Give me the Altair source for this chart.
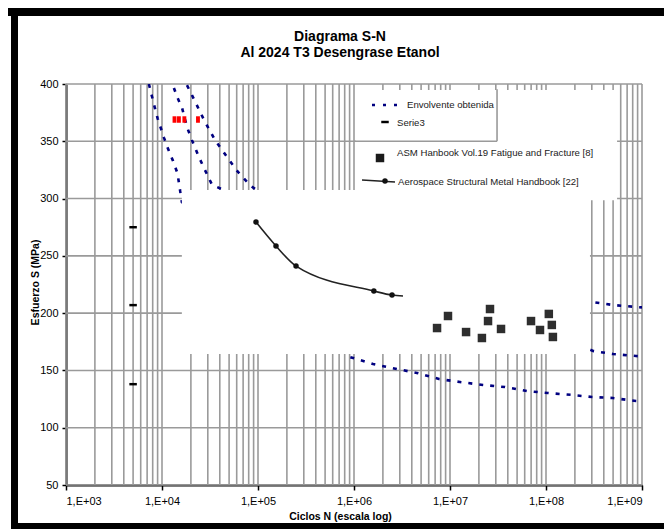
import altair as alt
import pandas as pd

# ---------------- data ----------------
title_lines = ["Diagrama S-N", "Al 2024 T3 Desengrase Etanol"]
x_title = "Ciclos N (escala log)"
y_title = "Esfuerzo S (MPa)"

decades = [1e3, 1e4, 1e5, 1e6, 1e7, 1e8, 1e9]
grid_N = [m * 10 ** e for e in range(3, 9) for m in range(1, 10)] + [1e9]
grid_S = [50, 100, 150, 200, 250, 300, 350, 400]

# "Envolvente obtenida" (three dashed curves)
env_a_N = [7.3e3, 8.2e3, 9.0e3, 1.05e4, 1.15e4, 1.3e4, 1.45e4, 1.61e4,
           9.08e5, 1.58e6, 2.81e6, 4.53e6, 7.68e6, 1.27e7, 2.21e7, 3.74e7,
           6.34e7, 1.05e8, 1.87e8, 3.02e8, 4.99e8, 8.66e8, 1e9]
env_a_S = [400, 383, 370, 353, 344, 333, 322, 297,
           161.7, 155.6, 151.2, 147.8, 142.5, 139.9, 137.3, 135.5,
           132.0, 130.3, 128.6, 126.8, 125.9, 123.3, 123.0]
env_b_N = [1.33e4, 1.45e4, 1.62e4, 1.82e4, 2.05e4, 2.43e4, 2.8e4, 3.32e4,
           3.09e8, 5.0e8, 8.66e8, 1e9]
env_b_S = [396.5, 388, 379, 362.5, 351, 336, 325, 312,
           167.0, 164.3, 162.6, 162.3]
env_c_N = [1.82e4, 2.05e4, 2.74e4, 3.56e4, 4.75e4, 6.19e4, 8.25e4, 9.3e4,
           3.01e8, 5.0e8, 8.66e8, 1e9]
env_c_S = [399, 390.4, 368.6, 351.1, 336.3, 323.2, 311.8, 308.4,
           209.7, 207.1, 205.4, 205.0]

# "Serie3"
serie3_N = [5e3, 5e3, 5e3]
serie3_S = [275, 207, 138]

# red markers
red_N = [1.35e4, 1.5e4, 1.71e4, 2.37e4]
red_S = [369, 369, 369, 369]

# Aerospace Structural Metal Handbook [22]
aero_N = [9.53e4, 1.54e5, 2.49e5, 1.61e6, 2.49e6]
aero_S = [279.5, 258.6, 241.1, 219.3, 215.8]
aero_line_N = aero_N + [3.24e6]
aero_line_S = aero_S + [215.0]

# ASM Hanbook Vol.19 Fatigue and Fracture [8]
asm_N = [7.33e6, 9.53e6, 1.47e7, 2.15e7, 2.61e7, 2.49e7, 3.40e7,
         6.98e7, 8.66e7, 1.07e8, 1.15e8, 1.18e8]
asm_S = [187.0, 197.5, 183.5, 178.3, 203.6, 193.1, 186.2,
         193.1, 185.3, 199.3, 189.7, 179.2]

# pasted inset areas (in data units)
inset_N1 = [1.61e4, 1.04e6]
inset_N2 = [2.87e8, 5.5e8]
inset_S1 = [164.3, 298.6]
inset_S2 = [307.5, 394.8]
# Excel legend box edges (bottom, right)
legbox_N1 = [1e6, 3.09e7]
legbox_N2 = [3.09e7, 3.09e7]
legbox_S1 = [350, 350]
legbox_S2 = [350, 395.5]

legend_labels = ["Envolvente obtenida", "Serie3",
                 "ASM Hanbook Vol.19 Fatigue and Fracture [8]",
                 "Aerospace Structural Metal Handbook [22]"]

# ---------------- chart ----------------
W, H = 576, 401
FONT = "Liberation Sans"
NAVY = "#000080"
GRID = "#9a9a9a"

xscale = alt.Scale(type="log", domain=[1e3, 1e9], nice=False)
yscale = alt.Scale(domain=[50, 400], nice=False, zero=False)

xaxis = alt.Axis(
    values=decades, grid=False, title=x_title,
    labelExpr="'1,E+' + (round(log(datum.value)/LN10) < 10 ? '0' : '') + round(log(datum.value)/LN10)",
    domainColor="black", domainWidth=2, tickColor="black", tickWidth=1.5, tickSize=5,
    labelFont=FONT, labelFontSize=11, labelColor="black", labelPadding=5,
    titleFont=FONT, titleFontSize=10.5, titleFontWeight="bold", titleColor="black",
    titleX=274, titleY=31, titleBaseline="middle", titleAlign="center",
)
yaxis = alt.Axis(
    values=grid_S, grid=False, title=y_title,
    domainColor="black", domainWidth=2, tickColor="black", tickWidth=1.5, tickSize=4,
    labelFont=FONT, labelFontSize=11, labelColor="black", labelPadding=4,
    titleFont=FONT, titleFontSize=10.5, titleFontWeight="bold", titleColor="black",
    titleX=-31, titleY=198, titleAngle=270, titleAlign="center", titleBaseline="middle",
)


def X(f="N"):
    return alt.X(f"{f}:Q", scale=xscale, axis=xaxis)


def Y(f="S"):
    return alt.Y(f"{f}:Q", scale=yscale, axis=yaxis)


layers = []

# grid
layers.append(alt.Chart(pd.DataFrame({"N": grid_N})).mark_rule(color=GRID, strokeWidth=1.6)
              .encode(x=X(), y=alt.value(0), y2=alt.value(H)))
layers.append(alt.Chart(pd.DataFrame({"S": grid_S})).mark_rule(color=GRID, strokeWidth=1.6)
              .encode(y=Y(), x=alt.value(0), x2=alt.value(W)))

ins = pd.DataFrame({"N": inset_N1, "N2": inset_N2, "S": inset_S1, "S2": inset_S2})
lbe = pd.DataFrame({"N": legbox_N1, "N2": legbox_N2, "S": legbox_S1, "S2": legbox_S2})

# envelope curves
env = pd.concat([
    pd.DataFrame({"N": env_a_N, "S": env_a_S, "c": "a"}),
    pd.DataFrame({"N": env_b_N, "S": env_b_S, "c": "b"}),
    pd.DataFrame({"N": env_c_N, "S": env_c_S, "c": "c"}),
])
env["i"] = range(len(env))
layers.append(alt.Chart(env).mark_line(color=NAVY, strokeWidth=2.6, strokeDash=[4, 7], clip=True)
              .encode(x=X(), y=Y(), detail="c:N", order="i:Q"))

# Serie3 dashes
dash_shape = "M-1,-0.33L1,-0.33L1,0.33L-1,0.33Z"
layers.append(alt.Chart(pd.DataFrame({"N": serie3_N, "S": serie3_S}))
              .mark_point(shape=dash_shape, filled=True, color="black", size=56, opacity=1)
              .encode(x=X(), y=Y()))

# red markers
red_shape = "M-0.6,-1L0.6,-1L0.6,1L-0.6,1Z"
layers.append(alt.Chart(pd.DataFrame({"N": red_N, "S": red_S}))
              .mark_point(shape=red_shape, filled=True, color="#ff0000", size=42, opacity=1)
              .encode(x=X(), y=Y()))

# white pasted inset (covers the middle of the plot)
layers.append(alt.Chart(ins).mark_rect(color="white", opacity=1)
              .encode(x=X(), x2="N2:Q", y=Y(), y2="S2:Q"))
# legend box edges
layers.append(alt.Chart(lbe).mark_rule(color=GRID, strokeWidth=1.6)
              .encode(x=X(), x2="N2:Q", y=Y(), y2="S2:Q"))

# Aerospace curve
layers.append(alt.Chart(pd.DataFrame({"N": aero_line_N, "S": aero_line_S}))
              .mark_line(color="#222222", strokeWidth=1.6, interpolate="monotone")
              .encode(x=X(), y=Y()))
layers.append(alt.Chart(pd.DataFrame({"N": aero_N, "S": aero_S}))
              .mark_circle(color="#111111", size=30, opacity=1)
              .encode(x=X(), y=Y()))

# ASM squares
layers.append(alt.Chart(pd.DataFrame({"N": asm_N, "S": asm_S}))
              .mark_square(color="#2e2e2e", size=72, opacity=1)
              .encode(x=X(), y=Y()))

# legend entries (pixel placement inside the plot)
base = alt.Chart(pd.DataFrame({"k": [0]}))
lx = [341, 331, 331, 332]
ly = [21, 39, 69, 98]
for lab, xx, yy in zip(legend_labels, lx, ly):
    layers.append(base.mark_text(align="left", baseline="middle", font=FONT, fontSize=9.6, color="#1a1a1a")
                  .encode(x=alt.value(xx), y=alt.value(yy), text=alt.value(lab)))
layers.append(base.mark_rule(color=NAVY, strokeWidth=2.6, strokeDash=[3, 8])
              .encode(x=alt.value(306), x2=alt.value(337), y=alt.value(21)))
layers.append(base.mark_point(shape=dash_shape, filled=True, color="black", size=56, opacity=1)
              .encode(x=alt.value(319), y=alt.value(38)))
layers.append(base.mark_square(color="#1a1a1a", size=72, opacity=1)
              .encode(x=alt.value(314), y=alt.value(74)))
layers.append(base.mark_rule(color="#222222", strokeWidth=1.5)
              .encode(x=alt.value(296), x2=alt.value(329), y=alt.value(96), y2=alt.value(98)))
layers.append(base.mark_circle(color="#111111", size=30, opacity=1)
              .encode(x=alt.value(319), y=alt.value(97)))

# chart title (two lines)
for line, yy in zip(title_lines, [-47, -31]):
    layers.append(base.mark_text(align="center", baseline="middle", font=FONT, fontSize=14,
                                 fontWeight="bold", color="black")
                  .encode(x=alt.value(274), y=alt.value(yy), text=alt.value(line)))

# outer black frame
layers.append(base.mark_rule(color="black", strokeWidth=8)
              .encode(x=alt.value(-58), x2=alt.value(598), y=alt.value(-72)))
layers.append(base.mark_rule(color="black", strokeWidth=7)
              .encode(x=alt.value(-51.5), y=alt.value(-76), y2=alt.value(445)))
layers.append(base.mark_rule(color="black", strokeWidth=6)
              .encode(x=alt.value(-55), x2=alt.value(598), y=alt.value(442)))

chart = alt.layer(*layers).properties(
    width=W, height=H,
    autosize=alt.AutoSizeParams(type="none"),
    padding={"left": 66, "top": 84, "right": 22, "bottom": 44},
    background="white",
).configure_view(strokeWidth=0)

chart.save("out.html", embed_options={"renderer": "svg", "actions": False})
